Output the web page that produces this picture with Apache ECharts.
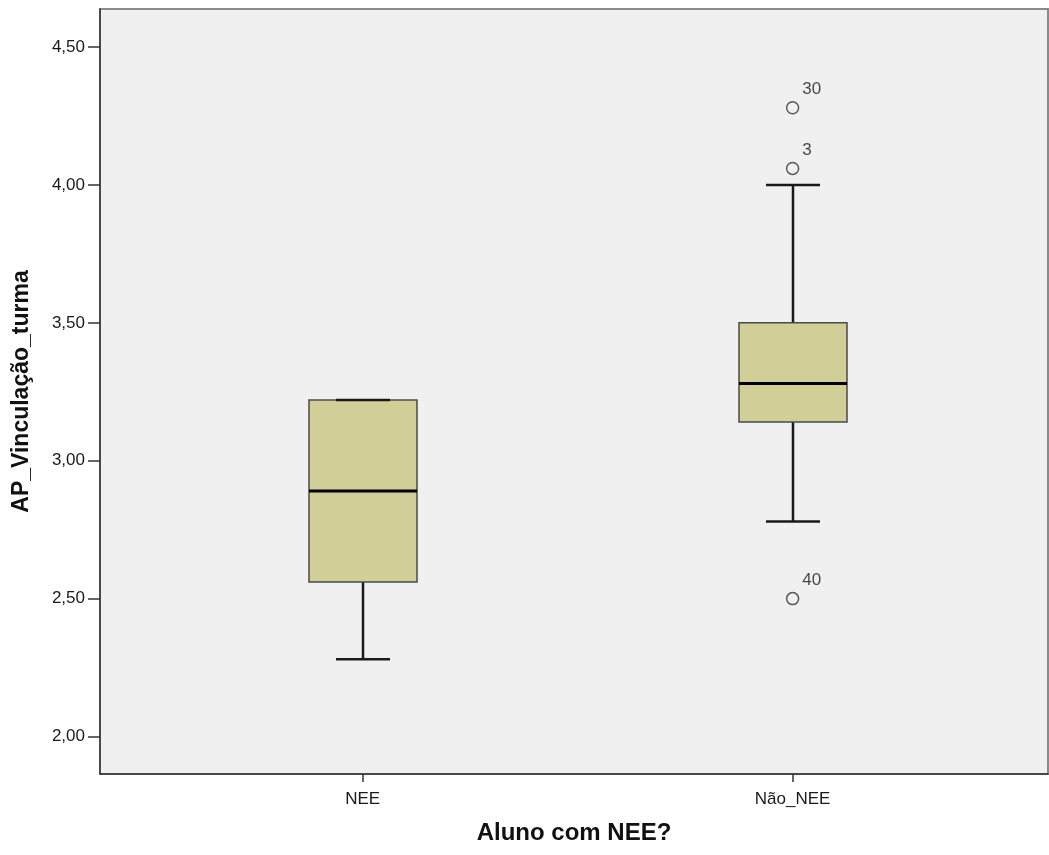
<!DOCTYPE html>
<html>
<head>
<meta charset="utf-8">
<script src="https://cdn.jsdelivr.net/npm/echarts@6/dist/echarts.min.js"></script>
<style>
  html, body { margin: 0; padding: 0; background: #fff; }
  #chart { width: 1049px; height: 855px; }
</style>
</head>
<body>
<div id="chart"></div>
<script>
// group summary
const categories = ['NEE', 'Não_NEE'];
const whiskerLow = [2.28, 2.78];
const quartile1 = [2.56, 3.14];
const medians = [2.89, 3.28];
const quartile3 = [3.22, 3.50];
const whiskerHigh = [3.22, 4.00];

// outliers: group index, value, case label
const outlierGroup = [1, 1, 1];
const outlierValue = [4.28, 4.06, 2.50];
const outlierCase = ['30', '3', '40'];

const yTicks = [2.0, 2.5, 3.0, 3.5, 4.0, 4.5];

const boxData = categories.map((c, i) => [i, whiskerLow[i], quartile1[i], medians[i], quartile3[i], whiskerHigh[i]]);
const outlierData = outlierValue.map((v, i) => ({ value: [outlierGroup[i], v], label: { formatter: outlierCase[i] } }));

const chart = echarts.init(document.getElementById('chart'));

const BOX_HALF = 54;
const CAP_HALF = 27;

function renderBox(params, api) {
  const x = api.value(0);
  const pLow = api.coord([x, api.value(1)]);
  const pQ1 = api.coord([x, api.value(2)]);
  const pMed = api.coord([x, api.value(3)]);
  const pQ3 = api.coord([x, api.value(4)]);
  const pHigh = api.coord([x, api.value(5)]);
  const cx = Math.round(pMed[0]);
  const whisk = { stroke: '#1a1a1a', lineWidth: 2.5 };
  return {
    type: 'group',
    children: [
      { type: 'line', shape: { x1: cx, y1: pLow[1], x2: cx, y2: pQ1[1] }, style: whisk },
      { type: 'line', shape: { x1: cx, y1: pQ3[1], x2: cx, y2: pHigh[1] }, style: whisk },
      {
        type: 'rect',
        shape: { x: cx - BOX_HALF, y: pQ3[1], width: BOX_HALF * 2, height: pQ1[1] - pQ3[1] },
        style: { fill: '#D2CE98', stroke: '#4a4a4a', lineWidth: 1.5 }
      },
      { type: 'line', shape: { x1: cx - BOX_HALF, y1: pMed[1], x2: cx + BOX_HALF, y2: pMed[1] }, style: { stroke: '#000', lineWidth: 3 } },
      { type: 'line', shape: { x1: cx - CAP_HALF, y1: pLow[1], x2: cx + CAP_HALF, y2: pLow[1] }, style: whisk },
      { type: 'line', shape: { x1: cx - CAP_HALF, y1: pHigh[1], x2: cx + CAP_HALF, y2: pHigh[1] }, style: whisk }
    ]
  };
}

chart.setOption({
  backgroundColor: '#fff',
  animation: false,
  textStyle: { fontFamily: 'Liberation Sans, Arial, sans-serif' },
  grid: {
    left: 100, right: 1, top: 9, bottom: 81,
    show: true,
    backgroundColor: '#F0F0F0',
    borderColor: '#8a8a8a',
    borderWidth: 2
  },
  xAxis: {
    type: 'value',
    min: -0.611,
    max: 1.594,
    name: 'Aluno com NEE?',
    nameLocation: 'middle',
    nameGap: 47,
    nameTextStyle: { fontSize: 24, fontWeight: 'bold', color: '#111' },
    axisLine: { show: true, onZero: false, lineStyle: { color: '#333', width: 1.5 } },
    axisTick: { show: true, length: 8, customValues: [0, 1], lineStyle: { color: '#333', width: 1.5 } },
    axisLabel: {
      customValues: [0, 1],
      formatter: v => categories[Math.round(v)],
      fontSize: 17,
      color: '#1a1a1a',
      margin: 17
    },
    splitLine: { show: false }
  },
  yAxis: {
    type: 'value',
    min: 1.864,
    max: 4.638,
    name: 'AP_Vinculação_turma',
    nameLocation: 'middle',
    nameGap: 67,
    nameTextStyle: { fontSize: 23, fontWeight: 'bold', color: '#111' },
    axisLine: { show: true, onZero: false, lineStyle: { color: '#333', width: 1.5 } },
    axisTick: { show: true, length: 12, customValues: yTicks, lineStyle: { color: '#333', width: 1.5 } },
    axisLabel: {
      customValues: yTicks,
      formatter: v => v.toFixed(2).replace('.', ','),
      fontSize: 17,
      color: '#1a1a1a',
      margin: 15
    },
    splitLine: { show: false }
  },
  series: [
    {
      type: 'custom',
      renderItem: renderBox,
      encode: { x: 0, y: [1, 2, 3, 4, 5] },
      data: boxData,
      z: 2
    },
    {
      type: 'scatter',
      symbol: 'circle',
      symbolSize: 12,
      itemStyle: { color: 'rgba(0,0,0,0)', borderColor: '#333', borderWidth: 1.5 },
      label: {
        show: true,
        position: 'right',
        distance: 3,
        offset: [0, -18],
        fontSize: 17,
        color: '#1a1a1a'
      },
      data: outlierData,
      z: 3
    }
  ]
});
</script>
</body>
</html>
